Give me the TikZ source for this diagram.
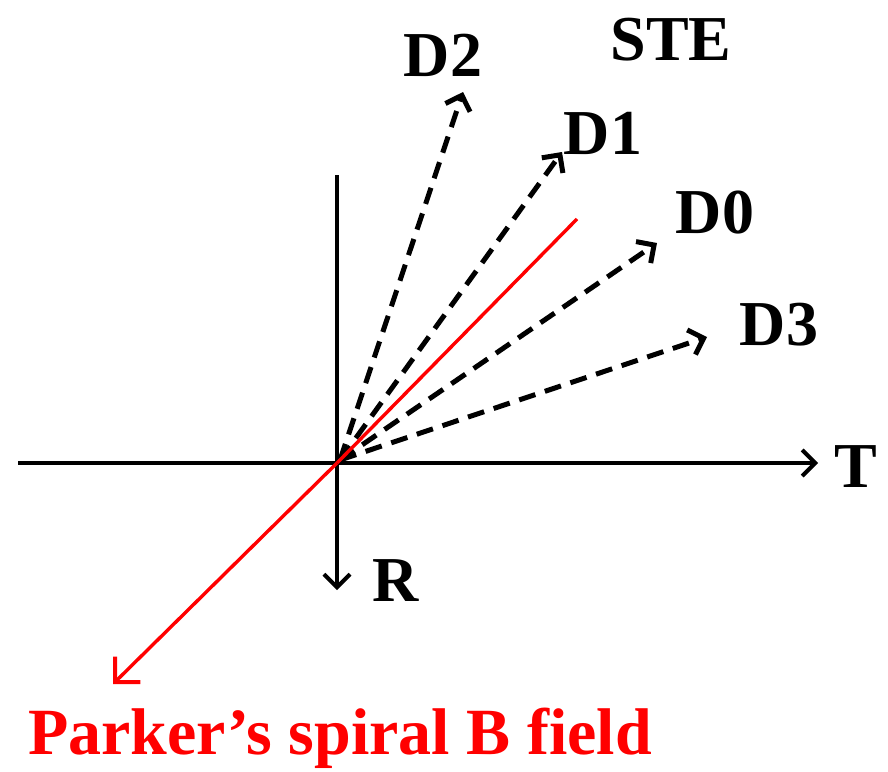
\documentclass[tikz,border=0pt]{standalone}
\usepackage{fontspec}
\setmainfont{Liberation Serif}
\usetikzlibrary{arrows.meta}
\begin{document}
\begin{tikzpicture}[x=1pt,y=-1pt,
  axis/.style={line width=4pt,-{Straight Barb[length=13pt,width=26pt,line width=4pt]}},
  dir/.style={line width=5pt,dash pattern=on 17pt off 10pt,-{Straight Barb[length=13pt,width=26pt,line width=5pt]}},
  field/.style={red,line width=3.4pt},
  lab/.style={font=\fontsize{64}{72}\selectfont\bfseries,inner sep=0pt}]
\useasboundingbox (0,0) rectangle (888,771);
\coordinate (O) at (337,463);
\coordinate (L) at (18,463);
\coordinate (Tt) at (818,463);
\coordinate (U) at (337,175);
\coordinate (Rt) at (337,590);
\coordinate (Bs) at (577,219);
\coordinate (Bt) at (113,684);
\coordinate (Os) at (340,460);
\coordinate (d2) at (463,92);
\coordinate (d1) at (562,152);
\coordinate (d0) at (657,243);
\coordinate (d3) at (707,337);
\draw[axis] (L) -- (Tt);
\draw[axis] (U) -- (Rt);
\draw[dir] (Os) -- (d2);
\draw[dir] (Os) -- (d1);
\draw[dir] (Os) -- (d0);
\draw[dir] (Os) -- (d3);
\draw[field] (Bs) -- (O);
\draw[field,-{Straight Barb[length=18pt,width=36pt,line width=4pt]}] (O) -- (Bt);
\node[lab] (nT) at (856,467) {T};
\node[lab] (nR) at (396,581) {R};
\node[lab] (nD2) at (443,55) {D2};
\node[lab] (nD1) at (603,133) {D1};
\node[lab] (nD0) at (715,213) {D0};
\node[lab] (nD3) at (779,325) {D3};
\node[lab] (nS) at (671,40) {STE};
\node[lab,red,anchor=base,font=\fontsize{66}{76}\selectfont\bfseries] (nP) at (340,754) {Parker’s spiral B field};
\end{tikzpicture}
\end{document}
